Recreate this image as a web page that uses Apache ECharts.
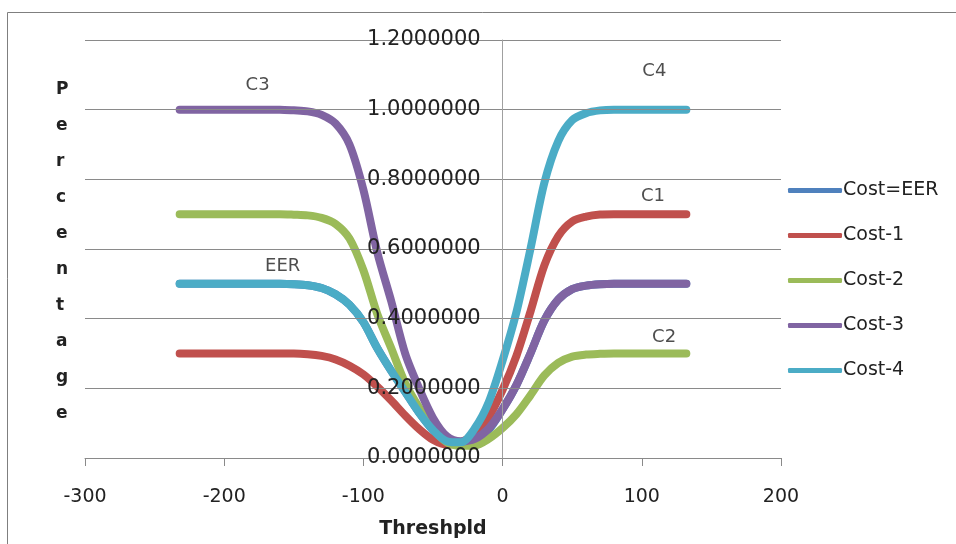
<!DOCTYPE html>
<html><head><meta charset="utf-8">
<script src="https://cdn.jsdelivr.net/npm/echarts@6/dist/echarts.min.js"></script>
<style>html,body{margin:0;padding:0;background:#fff}#c{width:956px;height:544px}</style>
</head><body><div id="c"></div>
<script>
// Threshold values (x)
var thresholds = [-232, -220, -210, -200, -190, -180, -170, -160, -150, -140, -130, -120, -110, -100, -90, -80, -70, -60, -50, -40, -30, -20, -10, 0, 10, 20, 30, 40, 50, 60, 70, 80, 90, 100, 110, 120, 132];
// Series values
var costEER = [0.5, 0.5, 0.5, 0.5, 0.5, 0.5, 0.5, 0.5, 0.499, 0.496, 0.488, 0.47, 0.44, 0.39, 0.315, 0.25, 0.19, 0.13, 0.08, 0.048, 0.042, 0.052, 0.081, 0.14, 0.21, 0.30, 0.395, 0.455, 0.485, 0.495, 0.499, 0.5, 0.5, 0.5, 0.5, 0.5, 0.5];
var cost1 = [0.3, 0.3, 0.3, 0.3, 0.3, 0.3, 0.3, 0.3, 0.3, 0.298, 0.293, 0.283, 0.265, 0.24, 0.205, 0.165, 0.122, 0.083, 0.052, 0.038, 0.045, 0.07, 0.118, 0.196, 0.294, 0.42, 0.553, 0.637, 0.679, 0.693, 0.699, 0.7, 0.7, 0.7, 0.7, 0.7, 0.7];
var cost2 = [0.7, 0.7, 0.7, 0.7, 0.7, 0.7, 0.7, 0.7, 0.6986, 0.6965, 0.6895, 0.672, 0.63, 0.539, 0.413, 0.315, 0.215, 0.145, 0.085, 0.045, 0.035, 0.036, 0.055, 0.086, 0.126, 0.18, 0.237, 0.273, 0.291, 0.297, 0.299, 0.3, 0.3, 0.3, 0.3, 0.3, 0.3];
var cost3 = [1.0, 1.0, 1.0, 1.0, 1.0, 1.0, 1.0, 1.0, 0.998, 0.995, 0.985, 0.96, 0.90, 0.77, 0.59, 0.45, 0.30, 0.20, 0.115, 0.062, 0.048, 0.055, 0.085, 0.14, 0.21, 0.30, 0.395, 0.455, 0.485, 0.495, 0.499, 0.5, 0.5, 0.5, 0.5, 0.5, 0.5];
var cost4 = [0.5, 0.5, 0.5, 0.5, 0.5, 0.5, 0.5, 0.5, 0.499, 0.496, 0.488, 0.47, 0.44, 0.39, 0.315, 0.25, 0.19, 0.13, 0.08, 0.048, 0.045, 0.085, 0.16, 0.28, 0.42, 0.60, 0.79, 0.91, 0.97, 0.99, 0.998, 1.0, 1.0, 1.0, 1.0, 1.0, 1.0];
var seriesNames = ['Cost=EER', 'Cost-1', 'Cost-2', 'Cost-3', 'Cost-4'];
// Curve annotations
var annoText = ['C3', 'EER', 'C4', 'C1', 'C2'];
var annoX = [-176, -158, 109, 108, 116];
var annoY = [1.07, 0.55, 1.11, 0.75, 0.345];
var yTitle = 'Percentage';
var xTitle = 'Threshpld';

var colors = ['#4F81BD', '#C0504D', '#9BBB59', '#8064A2', '#4BACC6'];
var allVals = [costEER, cost1, cost2, cost3, cost4];
var FONT = 'DejaVu Sans';

function pairs(vals) { return thresholds.map(function (x, i) { return [x, vals[i]]; }); }

var series = allVals.map(function (v, i) {
  return {
    name: seriesNames[i], type: 'line', data: pairs(v), smooth: 0.3,
    showSymbol: false, symbol: 'none', z: 2 + i,
    lineStyle: { width: 8, color: colors[i], cap: 'round', join: 'round' },
    itemStyle: { color: colors[i] }
  };
});
series.push({
  type: 'scatter', name: 'annotations', symbolSize: 0, z: 20, silent: true,
  data: annoText.map(function (t, i) { return [annoX[i], annoY[i], t]; }),
  label: { show: true, position: 'inside', formatter: function (p) { return p.value[2]; },
    fontFamily: FONT, fontSize: 18, color: '#222' }
});

var chart = echarts.init(document.getElementById('c'), null, { renderer: 'canvas' });
chart.setOption({
  animation: false,
  backgroundColor: '#fff',
  grid: { left: 85, right: 175, top: 40, bottom: 86, containLabel: false },
  legend: {
    data: seriesNames, orient: 'vertical', left: 783, top: 176,
    itemWidth: 54, itemHeight: 5, itemGap: 26, icon: 'roundRect',
    textStyle: { fontFamily: FONT, fontSize: 19, color: '#222', padding: [0, 0, 0, -4] }
  },
  xAxis: {
    type: 'value', min: -300, max: 200, interval: 100,
    name: xTitle, nameLocation: 'middle', nameGap: 62,
    nameTextStyle: { fontFamily: FONT, fontSize: 19, fontWeight: 'bold', color: '#222' },
    axisLine: { show: true, onZero: false, lineStyle: { color: '#8a8a8a', width: 1 } },
    axisTick: { show: true, length: 8, lineStyle: { color: '#8a8a8a' } },
    axisLabel: { margin: 30, fontFamily: FONT, fontSize: 19, color: '#222' },
    splitLine: { show: false }
  },
  yAxis: {
    type: 'value', min: 0, max: 1.2, interval: 0.2, z: 30, position: 'left', offset: -417.6,
    axisLine: { show: true, onZero: false, lineStyle: { color: '#a0a0a0', width: 1 } },
    axisTick: { show: false },
    axisLabel: { margin: 22, fontFamily: FONT, fontSize: 21, color: '#222',
      formatter: function (v) { return v.toFixed(7); } },
    splitLine: { show: true, lineStyle: { color: '#8a8a8a', width: 1 } }
  },
  graphic: [
    { type: 'rect', left: 5, top: 10, shape: { x: 0, y: 0, width: 960, height: 540 },
      style: { fill: 'none', stroke: '#7f7f7f', lineWidth: 1 }, silent: true },
    { type: 'text', left: 56, top: 72,
      style: { text: yTitle.split('').join('\n'), fontFamily: FONT, fontSize: 17, fontWeight: 'bold',
        lineHeight: 36, fill: '#222', align: 'center' } }
  ],
  series: series
});
</script></body></html>
